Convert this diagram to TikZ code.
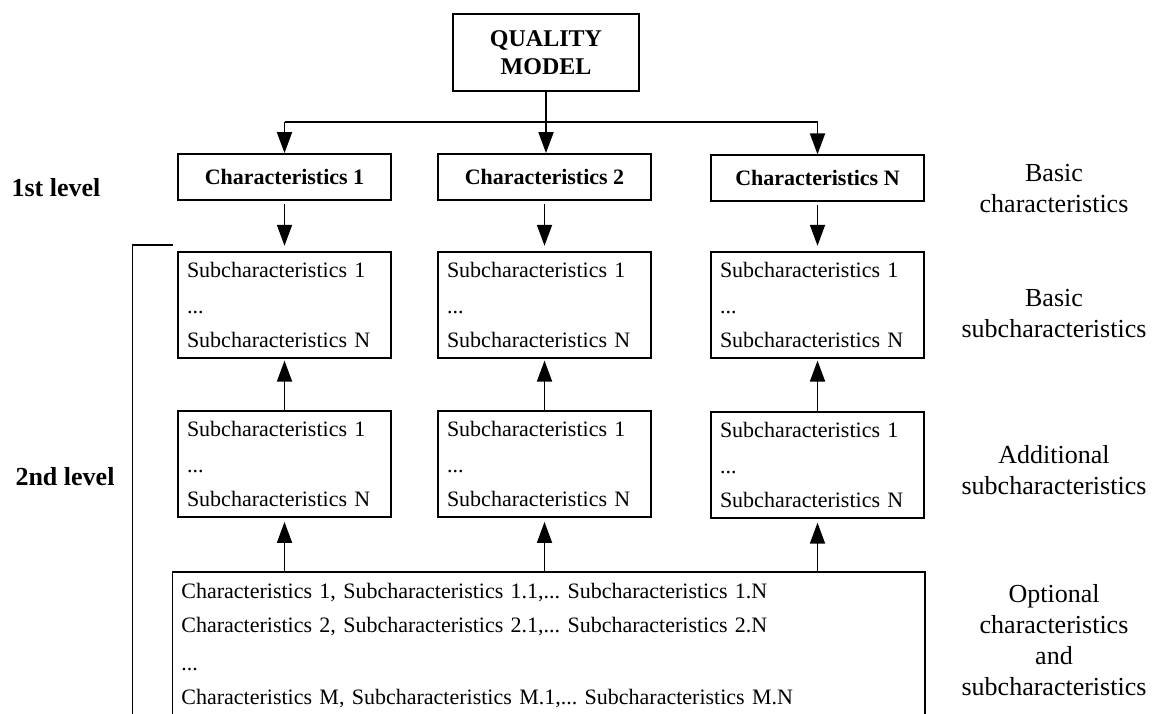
\documentclass[tikz,border=0pt]{standalone}
\usepackage{fontspec}
\setmainfont{Liberation Serif}
\usetikzlibrary{arrows.meta}
\frenchspacing
\newcommand{\sublist}{Subcharacteristics 1\\[1pt] ...\\ Subcharacteristics N}

\begin{document}
\begin{tikzpicture}[x=0.5pt, y=-0.5pt, line width=0.9pt, >={Triangle[length=10.5pt,width=7.5pt]},
        box/.style={draw, minimum width=106.5pt, inner sep=0pt},
        headbox/.style={box, minimum height=23pt, font=\fontsize{11}{13}\selectfont\bfseries},
        subbox/.style={box, minimum height=53pt, text width=97.5pt, align=left, font=\fontsize{11}{17}\selectfont},
        side/.style={align=center, font=\fontsize{13}{15.5}\selectfont},
        lvl/.style={font=\fontsize{13}{15.5}\selectfont\bfseries}]
        \clip (0,0) rectangle (1160,713);

        \node[draw, minimum width=92.75pt, minimum height=38.8pt, align=center,
            font=\fontsize{12}{13.7}\selectfont\bfseries] (qm) at (546,52.5) {QUALITY\\MODEL};

        \node[headbox] (c1) at (284.5,177) {Characteristics 1};
        \node[headbox] (c2) at (544.5,177) {Characteristics 2};
        \node[headbox] (cn) at (817.5,178.3) {Characteristics N};

        \node[subbox] (b1) at (284.5,304.7) {\sublist};
        \node[subbox] (b2) at (544.5,304.7) {\sublist};
        \node[subbox] (bn) at (817.5,304.7) {\sublist};

        \node[subbox] (a1) at (284.5,464) {\sublist};
        \node[subbox] (a2) at (544.5,464) {\sublist};
        \node[subbox] (an) at (817.5,464.8) {\sublist};

        \node[draw, anchor=north west, inner xsep=4.5pt, inner ysep=6pt, text width=367.25pt, align=left,
            font=\fontsize{11}{16}\selectfont] (opt) at (171.5,570.7) {%
            Characteristics 1, Subcharacteristics 1.1,... Subcharacteristics 1.N\\[1pt]
            Characteristics 2, Subcharacteristics 2.1,... Subcharacteristics 2.N\\[3pt]
            ...\\[1pt]
            Characteristics M, Subcharacteristics M.1,... Subcharacteristics M.N\rule[-12pt]{0pt}{0pt}};

        \node[lvl] (l1) at (56,188) {1st level};
        \node[lvl] (l2) at (65,477) {2nd level};

        \node[side] (s1) at (1054,188.5) {Basic\\characteristics};
        \node[side] (s2) at (1054,314) {Basic\\subcharacteristics};
        \node[side] (s3) at (1054,470) {Additional\\subcharacteristics};
        \node[side] (s4) at (1054,640) {Optional\\characteristics\\and\\subcharacteristics};

        \coordinate (fork) at (546,122);
        \draw[->] (qm.south) -- (qm.south |- c2.north);
        \draw (fork -| c1) -- (fork -| cn);
        \draw[->] (fork -| c1) -- (c1.north);
        \draw[->] (fork -| cn) -- (cn.north);

        \draw[->, shorten <=1.5pt, shorten >=2.5pt] (c1) -- (b1);
        \draw[->, shorten <=1.5pt, shorten >=2.5pt] (c2) -- (b2);
        \draw[->, shorten <=1.5pt, shorten >=2.5pt] (cn) -- (bn);

        \draw[->, shorten >=1pt] (a1) -- (b1);
        \draw[->, shorten >=1pt] (a2) -- (b2);
        \draw[->, shorten >=1pt] (an) -- (bn);

        \draw[->, shorten >=2pt] (opt.north -| a1) -- (a1.south);
        \draw[->, shorten >=2pt] (opt.north -| a2) -- (a2.south);
        \draw[->, shorten >=2pt] (opt.north -| an) -- (an.south);

        \coordinate (brtop) at (173,245);
        \draw (brtop) -- (132.5,245) -- (132.5,720);
\end{tikzpicture}
\end{document}
